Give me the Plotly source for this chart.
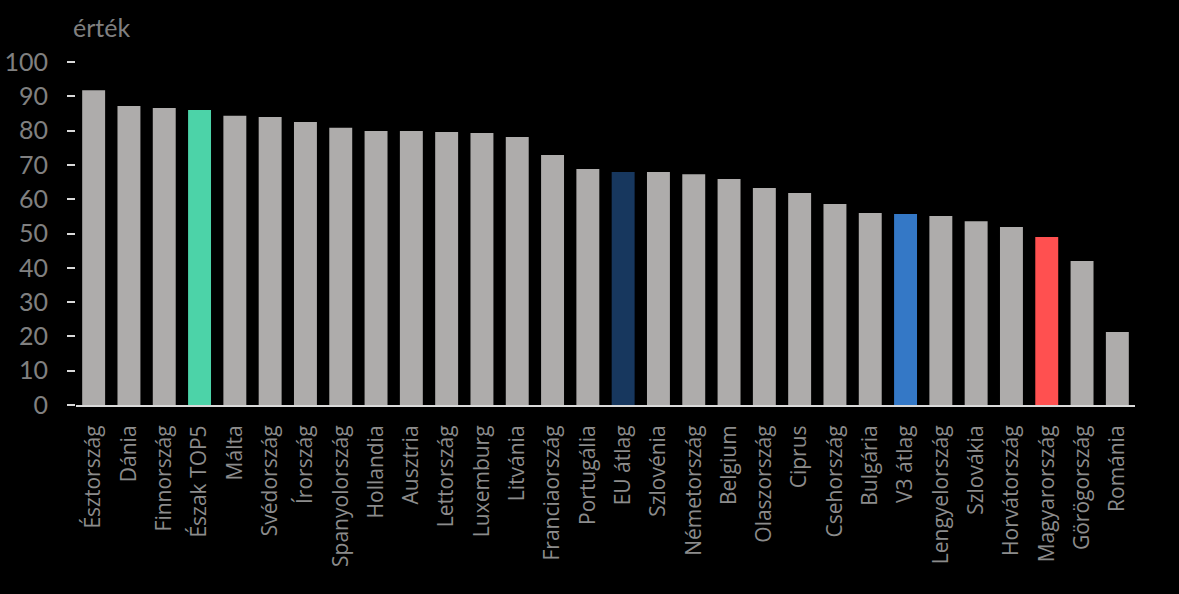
import plotly.graph_objects as go

categories = ["Észtország", "Dánia", "Finnország", "Észak TOP5", "Málta", "Svédország",
              "Írország", "Spanyolország", "Hollandia", "Ausztria", "Lettország", "Luxemburg",
              "Litvánia", "Franciaország", "Portugália", "EU átlag", "Szlovénia", "Németország",
              "Belgium", "Olaszország", "Ciprus", "Csehország", "Bulgária", "V3 átlag",
              "Lengyelország", "Szlovákia", "Horvátország", "Magyarország", "Görögország", "Románia"]
values = [91.8, 87.2, 86.6, 86.0, 84.3, 84.0, 82.5, 80.8, 79.9, 79.9, 79.6, 79.3,
          78.1, 72.9, 68.8, 67.9, 67.9, 67.3, 65.9, 63.3, 61.8, 58.6, 56.0, 55.7,
          55.1, 53.6, 51.9, 49.0, 42.0, 21.3]
y_ticks = [0, 10, 20, 30, 40, 50, 60, 70, 80, 90, 100]

highlight = {"Észak TOP5": "#4CD3A8", "EU átlag": "#17375E", "V3 átlag": "#3478C6",
             "Magyarország": "#FF5050"}
default_color = "#AEACAB"
colors = [highlight.get(c, default_color) for c in categories]

fig = go.Figure(go.Bar(x=categories, y=values, marker=dict(color=colors, line=dict(width=0)),
                       hoverinfo="x+y"))

fig.update_layout(
    width=1179, height=594,
    paper_bgcolor="black", plot_bgcolor="black",
    margin=dict(l=76, r=44, t=62, b=189),
    bargap=0.35,
    showlegend=False,
    xaxis=dict(
        tickangle=-90,
        tickfont=dict(family="Open Sans", size=21, color="#8C8C8C"),
        showline=True, linecolor="#D9D9D9", linewidth=2,
        showgrid=False, ticks="", zeroline=False,
        ticklabelstandoff=10, automargin=False,
    ),
    yaxis=dict(
        range=[0, 100], tickvals=y_ticks,
        tickfont=dict(family="Lato", size=25, color="#808080"),
        ticks="outside", ticklen=8, tickwidth=2, tickcolor="#D9D9D9",
        ticklabelstandoff=14, automargin=False,
        showgrid=False, zeroline=False, showline=False,
    ),
    annotations=[dict(text="érték", xref="paper", yref="paper", x=0, y=1,
                      xanchor="left", yanchor="bottom", xshift=-5, yshift=18,
                      showarrow=False, font=dict(family="Lato", size=25, color="#808080"))],
)

fig.write_html("out.html", config={"displayModeBar": False},
               post_script="document.body.style.margin='0';document.body.style.background='black';")
